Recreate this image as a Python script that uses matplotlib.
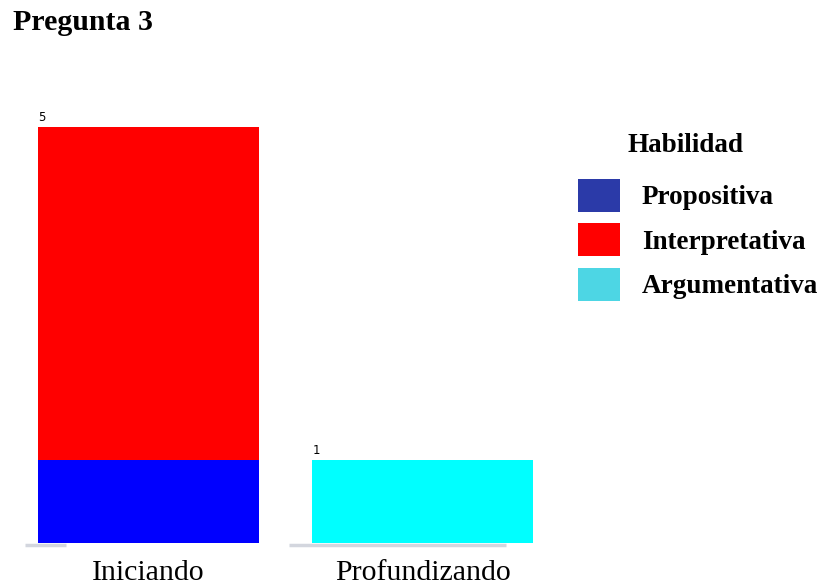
import numpy as np
import matplotlib.pyplot as plt
from matplotlib.patches import Patch

categories = ['Iniciando', 'Profundizando']
habilidades = ['Propositiva', 'Interpretativa', 'Argumentativa']
propositiva = [1, 0]
interpretativa = [4, 0]
argumentativa = [0, 1]

bar_colors = ['#0000ff', '#ff0000', '#00ffff']
legend_colors = ['#2b3aa8', '#ff0000', '#4dd6e4']

fig = plt.figure(figsize=(8.22, 5.86), dpi=100)
ax = fig.add_axes([25 / 822, 43 / 586, 520 / 822, 443 / 586])

x = np.arange(len(categories))
width = 0.805
series = [propositiva, interpretativa, argumentativa]
bottom = np.zeros(len(categories))
for vals, color in zip(series, bar_colors):
    ax.bar(x, vals, width, bottom=bottom, color=color, zorder=2)
    bottom += np.array(vals)

# total on top of each stack, at the bar's left edge
for xi, total in zip(x, bottom):
    ax.text(xi - width / 2, total + 0.03, f"{int(total)}",
            ha='left', va='bottom', fontsize=8.5, family='DejaVu Sans')

# faint baseline pieces
ax.hlines(-0.02, -0.45, -0.30, color='#d3d6de', lw=2.5, zorder=1, clip_on=False)
ax.hlines(-0.02, 0.512, 1.302, color='#d3d6de', lw=2.5, zorder=1, clip_on=False)

ax.set_xlim(-0.45, 1.445)
ax.set_ylim(0, 5.32)
ax.set_xticks(x)
ax.set_xticklabels(categories, family='Liberation Serif', fontsize=21.5)
ax.tick_params(axis='x', length=0, pad=12)
ax.set_yticks([])
for s in ax.spines.values():
    s.set_visible(False)

fig.text(13 / 822, 1 - 23 / 586, 'Pregunta 3', family='Liberation Serif',
         fontweight='bold', fontsize=21.5, va='center', ha='left')

# legend title sits apart from the swatches
fig.text(627 / 822, 1 - 145 / 586, 'Habilidad', family='Liberation Serif',
         fontweight='bold', fontsize=19.5, va='center', ha='left')

handles = [Patch(facecolor=c, edgecolor='none') for c in legend_colors]
leg = fig.legend(handles, habilidades, loc='upper left',
                 bbox_to_anchor=(578 / 822, 1 - 179 / 586), frameon=False,
                 borderpad=0, borderaxespad=0,
                 handlelength=1.55, handleheight=1.5, labelspacing=0.42,
                 handletextpad=0.81,
                 prop={'family': 'Liberation Serif', 'weight': 'bold', 'size': 19.5})

fig.savefig('out.png', dpi=100)
